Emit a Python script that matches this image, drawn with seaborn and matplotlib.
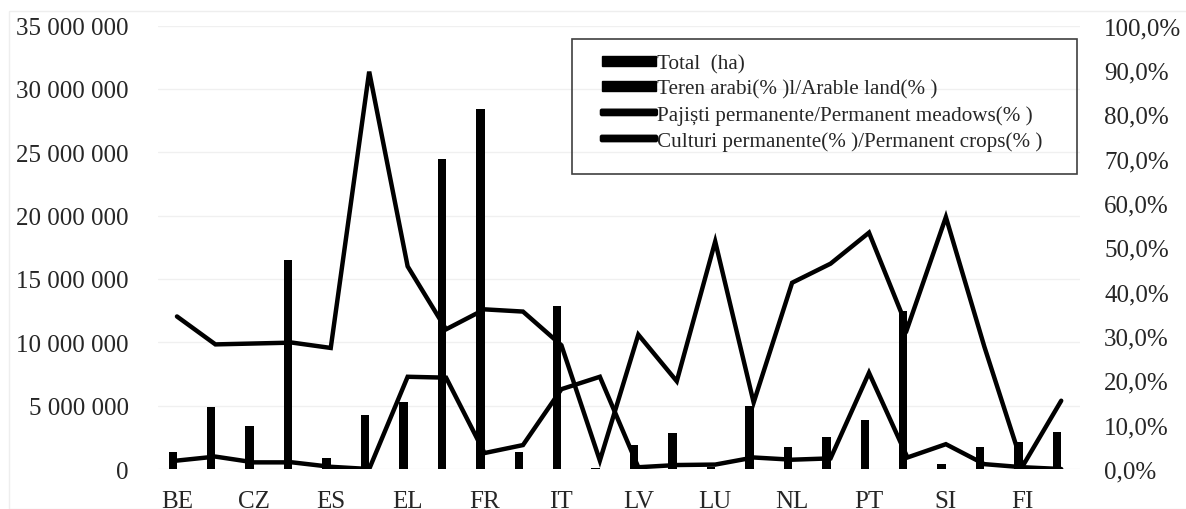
import numpy as np
import pandas as pd
import matplotlib.pyplot as plt
from matplotlib.patches import Rectangle, FancyBboxPatch, Patch
from matplotlib.legend_handler import HandlerPatch
from matplotlib.ticker import FuncFormatter, MultipleLocator
import seaborn as sns

# country codes (only every second one is shown on the axis)
countries = ["BE", "BG", "CZ", "DE", "ES", "IE", "EL", "ES", "FR", "HR", "IT", "CY",
             "LV", "LT", "LU", "HU", "NL", "AT", "PT", "RO", "SI", "SK", "FI", "SE"]

# total agricultural area (ha)
total_ha = [1.31e6, 4.90e6, 3.40e6, 16.5e6, 0.86e6, 4.25e6, 5.25e6, 24.5e6,
            28.4e6, 1.35e6, 12.85e6, 0.10e6, 1.89e6, 2.83e6, 0.13e6, 4.98e6,
            1.70e6, 2.50e6, 3.85e6, 12.45e6, 0.40e6, 1.76e6, 2.15e6, 2.90e6]

# permanent meadows (%)
meadows = [34.4, 28.1, 28.3, 28.5, 27.3, 89.6, 45.7, 31.5, 36.0, 35.5, 27.9, 1.9,
           30.3, 19.8, 51.3, 15.0, 42.0, 46.3, 53.3, 31.8, 56.8, 27.6, 0.7, 15.4]

# permanent crops (%)
crops = [1.9, 2.8, 1.5, 1.5, 0.5, 0.0, 20.8, 20.6, 3.6, 5.4, 18.0, 20.8,
         0.4, 0.9, 1.0, 2.6, 2.1, 2.4, 21.7, 2.6, 5.6, 1.1, 0.4, 0.0]

lab_total = "Total  (ha)"
lab_arable = "Teren arabi(% )l/Arable land(% )"
lab_meadows = "Pajiști permanente/Permanent meadows(% )"
lab_crops = "Culturi permanente(% )/Permanent crops(% )"

idx = np.arange(len(countries))
# the arable share sits on the ha axis in the source and is not visible,
# it only keeps its slot next to the total bars
bars_df = pd.DataFrame({"idx": idx, "value": total_ha, "series": lab_total})

sns.set_theme(style="white")
plt.rcParams["font.family"] = ["Liberation Serif", "DejaVu Serif"]

W, H = 1186, 510
fig = plt.figure(figsize=(W / 100, H / 100), dpi=100)
ax = fig.add_axes([0.133, 0.0784, 0.778, 0.8696])

sns.barplot(data=bars_df, x="idx", y="value", hue="series",
            hue_order=[lab_total, lab_arable], palette=["black", "black"],
            width=0.44, dodge=True, legend=False, ax=ax, zorder=3,
            edgecolor="none", linewidth=0)

ax.set_ylim(0, 35e6)
ax.set_xlim(-0.5, len(countries) - 0.5)
ax.yaxis.set_major_locator(MultipleLocator(5e6))
ax.yaxis.set_major_formatter(FuncFormatter(lambda v, p: format(int(v), ",").replace(",", " ")))
ax.set_xticks(idx[::2])
ax.set_xticklabels(countries[::2])
ax.grid(axis="y", color="#f0f0f0", lw=1, zorder=0)
ax.tick_params(axis="y", labelsize=18, pad=21, length=0)
ax.tick_params(axis="x", labelsize=18, pad=15, length=0)
ax.set_xlabel("")
ax.set_ylabel("")
sns.despine(ax=ax, left=True, bottom=True)

ax2 = ax.twinx()
sns.lineplot(x=idx, y=np.array(meadows) / 100, ax=ax2, color="black", lw=3.2,
             solid_capstyle="round", solid_joinstyle="miter")
sns.lineplot(x=idx, y=np.array(crops) / 100, ax=ax2, color="black", lw=3.2,
             solid_capstyle="round", solid_joinstyle="miter")
ax2.set_ylim(0, 1)
ax2.yaxis.set_major_locator(MultipleLocator(0.1))
ax2.yaxis.set_major_formatter(FuncFormatter(lambda v, p: f"{v * 100:.1f}%".replace(".", ",")))
ax2.tick_params(axis="y", labelsize=18, pad=17, length=0)
ax2.set_ylabel("")
for s in ax2.spines.values():
    s.set_visible(False)


def bar_key(legend, orig_handle, xdescent, ydescent, width, height, fontsize):
    return Rectangle((-xdescent + width * 0.27, -ydescent + height * 0.5 - 3.5),
                     width * 0.73, 7)


def line_key(legend, orig_handle, xdescent, ydescent, width, height, fontsize):
    return FancyBboxPatch((-xdescent + width * 0.27, -ydescent + height * 0.5 - 1.2),
                          width * 0.73, 2.4, boxstyle="round,pad=1.1")


handles = [Patch(color="black", label=lab_total),
           Patch(color="black", label=lab_arable),
           Patch(color="black", label=lab_meadows),
           Patch(color="black", label=lab_crops)]
hmap = {handles[0]: HandlerPatch(patch_func=bar_key),
        handles[1]: HandlerPatch(patch_func=bar_key),
        handles[2]: HandlerPatch(patch_func=line_key),
        handles[3]: HandlerPatch(patch_func=line_key)}
leg = fig.legend(handles=handles, handler_map=hmap, loc="upper left",
                 bbox_to_anchor=(582 / W, 1 - 55 / H), fontsize=15.2,
                 frameon=False, handlelength=3.5, handleheight=0.5,
                 handletextpad=0.05, labelspacing=0.3, borderpad=0,
                 borderaxespad=0)

# legend frame
fig.patches.append(Rectangle((572 / W, 1 - 175 / H), 505 / W, 135 / H,
                             transform=fig.transFigure, fill=False,
                             edgecolor="#404040", lw=1.2, zorder=5))

# faint chart-area border
fig.patches.append(Rectangle((0.008, 0.0), 1.0, 0.976, transform=fig.transFigure,
                             fill=False, edgecolor="#eeeeee", lw=1))

fig.savefig("out.png", dpi=100)
plt.close()
